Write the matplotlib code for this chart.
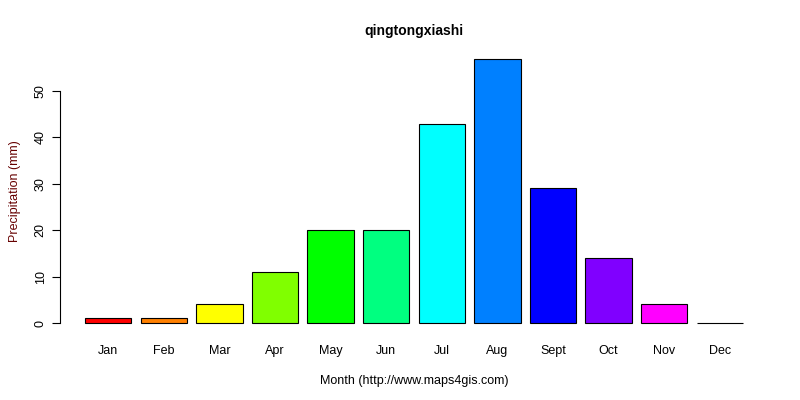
import matplotlib
matplotlib.use("Agg")
import matplotlib.pyplot as plt

months = ["Jan", "Feb", "Mar", "Apr", "May", "Jun", "Jul", "Aug", "Sept", "Oct", "Nov", "Dec"]
precip = [1, 1, 4, 11, 20, 20, 43, 57, 29, 14, 4, 0]
colors = ["#ff0000", "#ff8000", "#ffff00", "#80ff00", "#00ff00", "#00ff80",
          "#00ffff", "#0080ff", "#0000ff", "#8000ff", "#ff00ff", "#ff0080"]

plt.rcParams["font.family"] = ["Liberation Sans", "DejaVu Sans"]
fig = plt.figure(figsize=(8, 4), dpi=100)
ax = fig.add_axes([0.075, 0.166, 0.885, 0.714])

xs = [0.7 + 1.2 * i for i in range(len(months))]
ax.bar(xs, precip, width=1.0, color=colors, edgecolor="black", linewidth=0.8)
ax.set_xlim(-0.34, 14.94)
ax.set_ylim(-2.28, 59.28)

for s in ["top", "right", "bottom"]:
    ax.spines[s].set_visible(False)
ax.spines["left"].set_bounds(0, 50)
ax.set_yticks([0, 10, 20, 30, 40, 50])
ax.tick_params(axis="y", labelrotation=90, labelsize=9, length=6)
for lbl in ax.get_yticklabels():
    lbl.set_va("center")
ax.set_xticks(xs)
ax.set_xticklabels(months, fontsize=9)
ax.tick_params(axis="x", length=0, pad=8)

ax.set_title("qingtongxiashi", fontsize=10, fontweight="bold", pad=9)
ax.set_xlabel("Month (http://www.maps4gis.com)", fontsize=9, labelpad=13)
ax.set_ylabel("Precipitation (mm)", fontsize=9, color="#660000", labelpad=10)

fig.savefig("out.png", dpi=100)
